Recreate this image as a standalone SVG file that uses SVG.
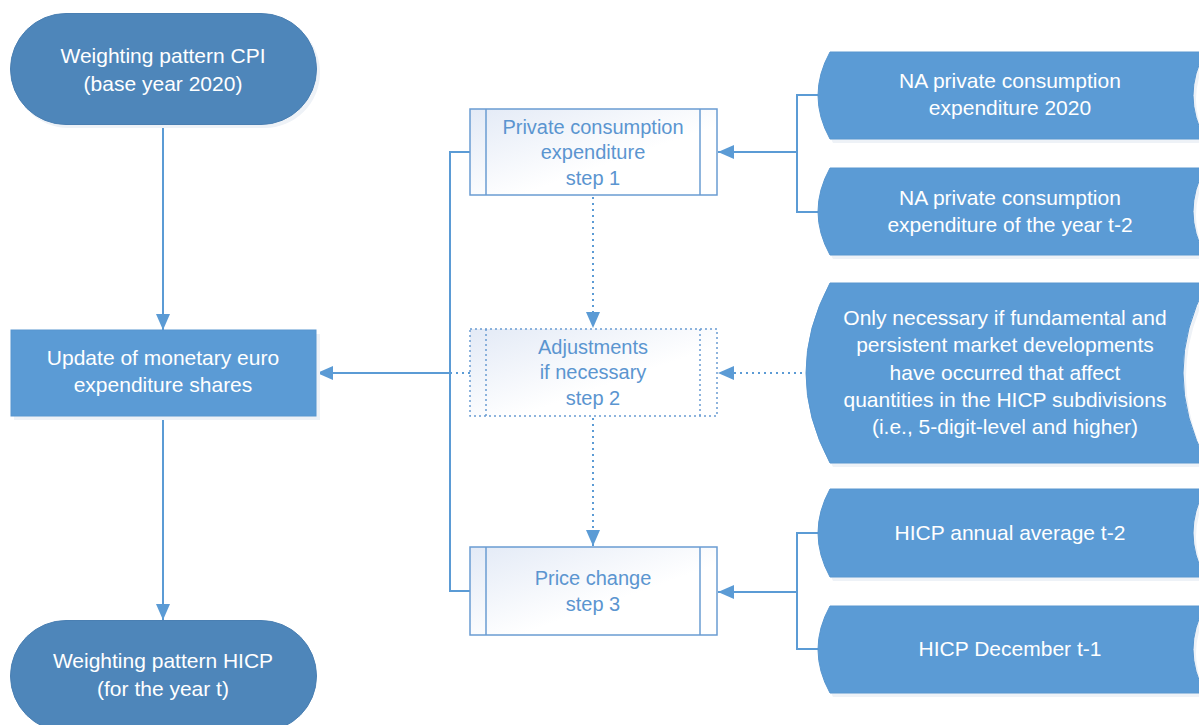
<svg xmlns="http://www.w3.org/2000/svg" width="1199" height="725" viewBox="0 0 1199 725">
<defs>
<style>
.term{fill:#4E86BA;stroke:#4A7FB2;stroke-width:1}
.blue{fill:#5B9BD5;stroke:#5896CF;stroke-width:1}
.shadow{fill:#EEF2F7}
.proc{fill:url(#pg);stroke:#6A9CD2;stroke-width:1.5}
.procd{fill:url(#pg);stroke:#6A9CD2;stroke-width:1.5;stroke-dasharray:2 3}
.inner{stroke:#6A9CD2;stroke-width:1.5;fill:none}
.innerd{stroke:#6A9CD2;stroke-width:1.5;fill:none;stroke-dasharray:2 3}
.wt{fill:#FFFFFF;font-family:"Liberation Sans",Arial,sans-serif;font-size:21px;text-anchor:middle}
.bt{fill:#5B95D0;font-family:"Liberation Sans",Arial,sans-serif;font-size:20px;text-anchor:middle}
.ln{stroke:#5B9BD5;stroke-width:2;fill:none}
.dl{stroke:#5B9BD5;stroke-width:2;fill:none;stroke-dasharray:2 4}
</style>
<linearGradient id="pg" x1="0" y1="0" x2="1" y2="1">
<stop offset="0" stop-color="#E3EAF6"/>
<stop offset="0.6" stop-color="#FFFFFF"/>
<stop offset="1" stop-color="#FFFFFF"/>
</linearGradient>
<marker id="ah" viewBox="0 0 10 10" refX="10" refY="5" markerWidth="8" markerHeight="8" markerUnits="userSpaceOnUse" orient="auto">
<path d="M0,0 L10,5 L0,10 z" fill="#5B9BD5"/>
</marker>
<marker id="arr" viewBox="0 0 16 14" refX="16" refY="7" markerWidth="16" markerHeight="14" markerUnits="userSpaceOnUse" orient="auto">
<path d="M0,0 L16,7 L0,14 z" fill="#5B9BD5"/>
</marker>
</defs>
<rect width="1199" height="725" fill="#FFFFFF"/>

<g id="connectors">
<line class="ln" x1="163" y1="125" x2="163" y2="330" marker-end="url(#arr)"/>
<line class="ln" x1="163" y1="416" x2="163" y2="620" marker-end="url(#arr)"/>
<polyline class="ln" points="470,152 450,152 450,591 470,591"/>
<line class="ln" x1="450" y1="373" x2="317" y2="373" marker-end="url(#arr)"/>
<line class="dl" x1="470" y1="373" x2="450" y2="373"/>
<line class="dl" x1="593" y1="197" x2="593" y2="328" marker-end="url(#arr)"/>
<line class="dl" x1="593" y1="418" x2="593" y2="546" marker-end="url(#arr)"/>
<polyline class="ln" points="818,95 797,95 797,212 818,212"/>
<line class="ln" x1="797" y1="152" x2="718" y2="152" marker-end="url(#arr)"/>
<line class="dl" x1="808" y1="373" x2="718" y2="373" marker-end="url(#arr)"/>
<polyline class="ln" points="818,533 797,533 797,649 818,649"/>
<line class="ln" x1="797" y1="592" x2="718" y2="592" marker-end="url(#arr)"/>
</g>

<g id="n-cpi">
<rect class="shadow" x="13" y="17" width="307" height="111" rx="55.5"/>
<rect class="term" x="10.5" y="13.5" width="306" height="111" rx="55.5"/>
<text class="wt" x="163" y="63">Weighting pattern CPI</text>
<text class="wt" x="163" y="91">(base year 2020)</text>
</g>

<g id="n-update">
<rect class="shadow" x="14" y="334" width="306" height="86"/>
<rect class="blue" x="11" y="330" width="305" height="86"/>
<text class="wt" x="163" y="365">Update of monetary euro</text>
<text class="wt" x="163" y="392">expenditure shares</text>
</g>

<g id="n-hicp">
<rect class="term" x="10.5" y="620.5" width="306" height="111" rx="55.5"/>
<text class="wt" x="163" y="668">Weighting pattern HICP</text>
<text class="wt" x="163" y="696">(for the year t)</text>
</g>

<g id="n-step1">
<rect class="proc" x="470" y="109" width="247" height="86"/>
<line class="inner" x1="486" y1="109" x2="486" y2="195"/>
<line class="inner" x1="700" y1="109" x2="700" y2="195"/>
<text class="bt" x="593" y="134">Private consumption</text>
<text class="bt" x="593" y="159">expenditure</text>
<text class="bt" x="593" y="185">step 1</text>
</g>

<g id="n-step2">
<rect class="procd" x="470" y="329" width="247" height="87"/>
<line class="innerd" x1="486" y1="329" x2="486" y2="416"/>
<line class="innerd" x1="700" y1="329" x2="700" y2="416"/>
<text class="bt" x="593" y="354">Adjustments</text>
<text class="bt" x="593" y="379">if necessary</text>
<text class="bt" x="593" y="405">step 2</text>
</g>

<g id="n-step3">
<rect class="proc" x="470" y="547" width="247" height="88"/>
<line class="inner" x1="486" y1="547" x2="486" y2="635"/>
<line class="inner" x1="700" y1="547" x2="700" y2="635"/>
<text class="bt" x="593" y="585">Price change</text>
<text class="bt" x="593" y="611">step 3</text>
</g>

<g id="n-na2020">
<path class="shadow" d="M833,56 L1208,56 Q1184,99.5 1208,143 L833,143 Q809,99.5 833,56 z"/>
<path class="blue" d="M830,52 L1205,52 Q1181,95.5 1205,139 L830,139 Q806,95.5 830,52 z"/>
<text class="wt" x="1010" y="88">NA private consumption</text>
<text class="wt" x="1010" y="115">expenditure 2020</text>
</g>

<g id="n-nat2">
<path class="shadow" d="M833,172 L1208,172 Q1184,215.5 1208,259 L833,259 Q809,215.5 833,172 z"/>
<path class="blue" d="M830,168 L1205,168 Q1181,211.5 1205,255 L830,255 Q806,211.5 830,168 z"/>
<text class="wt" x="1010" y="205">NA private consumption</text>
<text class="wt" x="1010" y="232">expenditure of the year t-2</text>
</g>

<g id="n-only">
<path class="shadow" d="M833,287 L1210,287 Q1162,377 1210,467 L833,467 Q785,377 833,287 z"/>
<path class="blue" d="M830,283 L1207,283 Q1159,373 1207,463 L830,463 Q782,373 830,283 z"/>
<text class="wt" x="1005" y="325">Only necessary if fundamental and</text>
<text class="wt" x="1005" y="352">persistent market developments</text>
<text class="wt" x="1005" y="380">have occurred that affect</text>
<text class="wt" x="1005" y="407">quantities in the HICP subdivisions</text>
<text class="wt" x="1005" y="434">(i.e., 5-digit-level and higher)</text>
</g>

<g id="n-annual">
<path class="shadow" d="M833,493 L1208,493 Q1184,537 1208,581 L833,581 Q809,537 833,493 z"/>
<path class="blue" d="M830,489 L1205,489 Q1181,533 1205,577 L830,577 Q806,533 830,489 z"/>
<text class="wt" x="1010" y="540">HICP annual average t-2</text>
</g>

<g id="n-dec">
<path class="shadow" d="M833,610 L1208,610 Q1184,653.5 1208,697 L833,697 Q809,653.5 833,610 z"/>
<path class="blue" d="M830,606 L1205,606 Q1181,649.5 1205,693 L830,693 Q806,649.5 830,606 z"/>
<text class="wt" x="1010" y="656">HICP December t-1</text>
</g>
</svg>
